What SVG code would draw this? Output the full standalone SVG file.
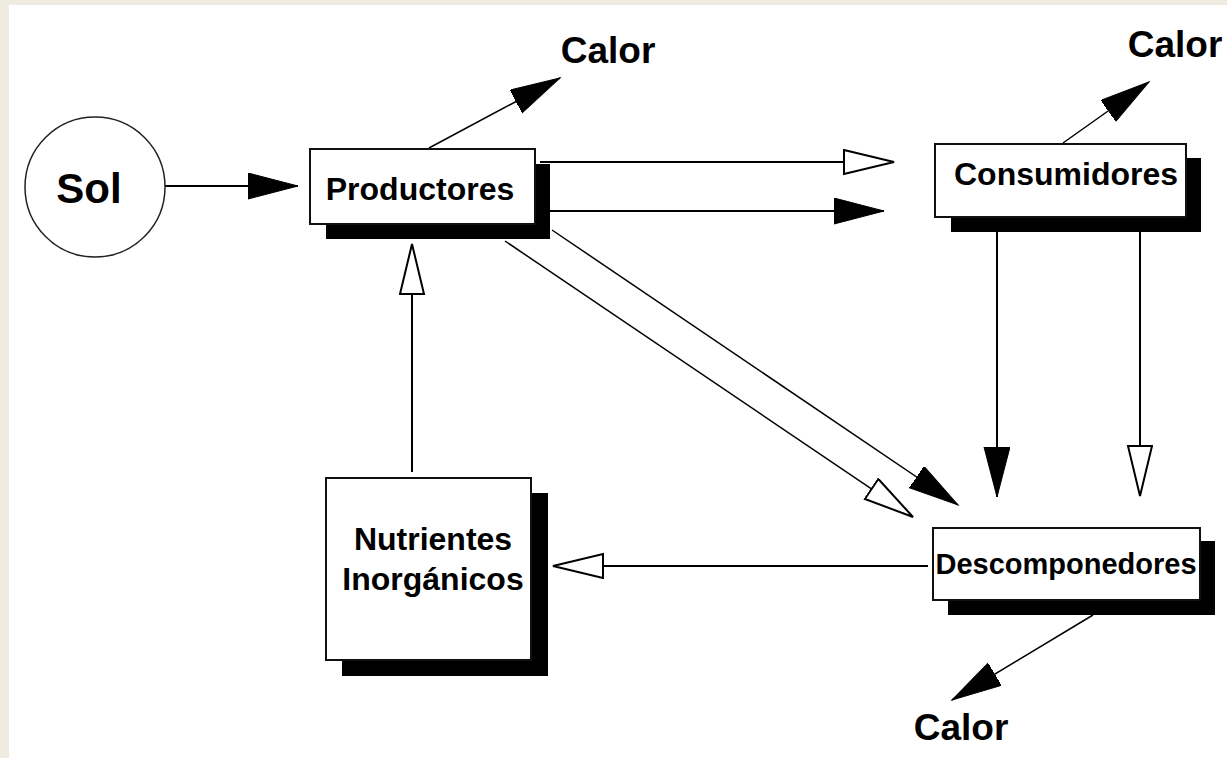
<svg xmlns="http://www.w3.org/2000/svg" width="1227" height="758" viewBox="0 0 1227 758">
<style>
.box{fill:#fff;stroke:#111;stroke-width:2}
.shadow{fill:#000}
.lbl{font-family:"Liberation Sans",Arial,sans-serif;font-weight:bold;fill:#000;text-anchor:middle}
.ln{stroke:#000;stroke-width:2;fill:none}
.thin{stroke:#000;stroke-width:1.5;fill:none}
</style>
<defs>
<marker id="fill" markerUnits="userSpaceOnUse" markerWidth="52" markerHeight="28" refX="50" refY="13" orient="auto" viewBox="0 0 52 28">
<path d="M0,0 L50,13 L0,26 z" fill="#000" stroke="#000" stroke-width="1"/>
</marker>
<marker id="open" markerUnits="userSpaceOnUse" markerWidth="54" markerHeight="28" refX="51" refY="13" orient="auto" viewBox="0 0 54 28">
<path d="M1,1 L51,13 L1,25 z" fill="#fff" stroke="#000" stroke-width="2"/>
</marker>
</defs>
<rect x="0" y="0" width="1227" height="758" fill="#EEECE1"/>
<rect x="9" y="5" width="1218" height="753" fill="#fff"/>

<g id="connectors">
<line class="ln" x1="165" y1="186" x2="298" y2="186" marker-end="url(#fill)"/>
<line class="thin" x1="429" y1="148" x2="560" y2="78" marker-end="url(#fill)"/>
<line class="thin" x1="1063" y1="143" x2="1149" y2="82" marker-end="url(#fill)"/>
<line class="thin" x1="1093" y1="615" x2="952" y2="700" marker-end="url(#fill)"/>
<line class="ln" x1="540" y1="162" x2="894" y2="162" marker-end="url(#open)"/>
<line class="ln" x1="550" y1="211" x2="884" y2="211" marker-end="url(#fill)"/>
<line class="ln" x1="997" y1="232" x2="997" y2="497" marker-end="url(#fill)"/>
<line class="ln" x1="1140" y1="232" x2="1140" y2="496" marker-end="url(#open)"/>
<line class="ln" x1="412" y1="472" x2="412" y2="244" marker-end="url(#open)"/>
<line class="ln" x1="928" y1="566" x2="553" y2="566" marker-end="url(#open)"/>
<line class="thin" x1="552" y1="230" x2="958" y2="505" marker-end="url(#fill)"/>
<line class="thin" x1="505" y1="241" x2="913" y2="517" marker-end="url(#open)"/>
</g>

<g id="sol">
<circle cx="95" cy="187" r="70" fill="#fff" stroke="#222" stroke-width="1.5"/>
<text class="lbl" x="89" y="203" font-size="42">Sol</text>
</g>

<g id="productores">
<rect class="shadow" x="326" y="164" width="224" height="75"/>
<rect class="box" x="310" y="149" width="225" height="75"/>
<text class="lbl" x="420" y="200" font-size="32">Productores</text>
</g>

<g id="consumidores">
<rect class="shadow" x="951" y="158" width="250" height="74"/>
<rect class="box" x="935" y="144" width="251" height="73"/>
<text class="lbl" x="1066" y="185" font-size="32">Consumidores</text>
</g>

<g id="descomponedores">
<rect class="shadow" x="948" y="541" width="267" height="74"/>
<rect class="box" x="933" y="528" width="267" height="72"/>
<text class="lbl" x="1066" y="574" font-size="29">Descomponedores</text>
</g>

<g id="nutrientes">
<rect class="shadow" x="342" y="493" width="206" height="183"/>
<rect class="box" x="326" y="478" width="205" height="182"/>
<text class="lbl" x="433" y="550" font-size="32">Nutrientes</text>
<text class="lbl" x="433" y="590" font-size="32">Inorgánicos</text>
</g>

<g id="calor1"><text class="lbl" x="608" y="63" font-size="37">Calor</text></g>
<g id="calor2"><text class="lbl" x="1175" y="57" font-size="37">Calor</text></g>
<g id="calor3"><text class="lbl" x="961" y="740" font-size="37">Calor</text></g>
</svg>
